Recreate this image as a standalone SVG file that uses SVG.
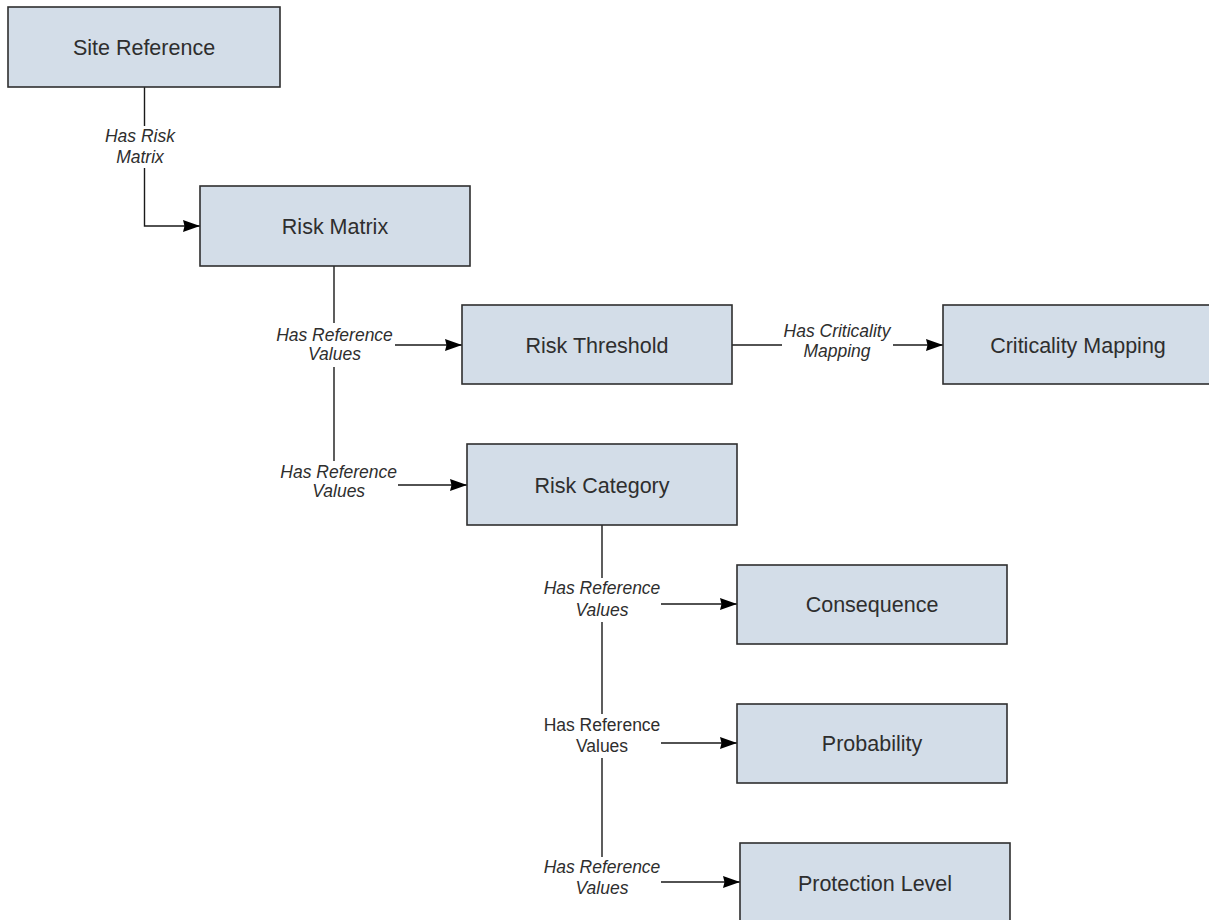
<svg xmlns="http://www.w3.org/2000/svg" width="1209" height="920" viewBox="0 0 1209 920">
<style>
.node rect{fill:#d3dde8;stroke:#2f2f2f;stroke-width:1.6}
.node text{font-family:"Liberation Sans",Arial,sans-serif;font-size:21.5px;fill:#2e2e2e;text-anchor:middle}
.conn path{fill:none;stroke:#1a1a1a;stroke-width:1.4;marker-end:url(#arr)}
.lbl rect{fill:#fff;stroke:none}
.lbl text{font-family:"Liberation Sans",Arial,sans-serif;font-size:17.5px;fill:#2e2e2e;text-anchor:middle;font-style:italic}
.lbl text.reg{font-style:normal}
</style>
<defs>
<marker id="arr" markerUnits="userSpaceOnUse" markerWidth="18" markerHeight="14" refX="17" refY="6.5" orient="auto" overflow="visible">
<path d="M0,0.5 L17,6.5 L0,12.5 L1.5,6.5 z" fill="#000"/>
</marker>
</defs>
<rect width="1209" height="920" fill="#fff"/>
<g id="connectors" class="conn">
<path d="M144.5,87 V226 H200"/>
<path d="M334,266 V345 H462"/>
<path d="M334,345 V485 H467"/>
<path d="M732,345 H943"/>
<path d="M602,525 V604 H737"/>
<path d="M602,604 V743 H737"/>
<path d="M602,743 V882 H740"/>
</g>
<g id="labels" class="lbl">
<rect x="104" y="126" width="72" height="42"/>
<text x="140" y="141.7">Has Risk</text><text x="140" y="162.7">Matrix</text>
<rect x="274" y="323" width="121" height="44"/>
<text x="334.5" y="340.7">Has Reference</text><text x="334.5" y="360">Values</text>
<rect x="278" y="461" width="120" height="42"/>
<text x="338.7" y="477.7">Has Reference</text><text x="338.7" y="496.7">Values</text>
<rect x="782" y="322" width="111" height="42"/>
<text x="837" y="337.3">Has Criticality</text><text x="837" y="357">Mapping</text>
<rect x="541" y="578" width="120" height="44"/>
<text x="602" y="594.3">Has Reference</text><text x="602" y="615.7">Values</text>
<rect x="541" y="714" width="120" height="44"/>
<text class="reg" x="602" y="731">Has Reference</text><text class="reg" x="602" y="751.7">Values</text>
<rect x="541" y="857" width="120" height="43"/>
<text x="602" y="872.7">Has Reference</text><text x="602" y="894">Values</text>
</g>
<g id="site-reference" class="node"><rect x="8" y="7" width="272" height="80"/><text x="144" y="55">Site Reference</text></g>
<g id="risk-matrix" class="node"><rect x="200" y="186" width="270" height="80"/><text x="335" y="234">Risk Matrix</text></g>
<g id="risk-threshold" class="node"><rect x="462" y="305" width="270" height="79"/><text x="597" y="352.5">Risk Threshold</text></g>
<g id="criticality-mapping" class="node"><rect x="943" y="305" width="270" height="79"/><text x="1078" y="352.5">Criticality Mapping</text></g>
<g id="risk-category" class="node"><rect x="467" y="444" width="270" height="81"/><text x="602" y="492.5">Risk Category</text></g>
<g id="consequence" class="node"><rect x="737" y="565" width="270" height="79"/><text x="872" y="612">Consequence</text></g>
<g id="probability" class="node"><rect x="737" y="704" width="270" height="79"/><text x="872" y="751">Probability</text></g>
<g id="protection-level" class="node"><rect x="740" y="843" width="270" height="80"/><text x="875" y="891">Protection Level</text></g>
</svg>
